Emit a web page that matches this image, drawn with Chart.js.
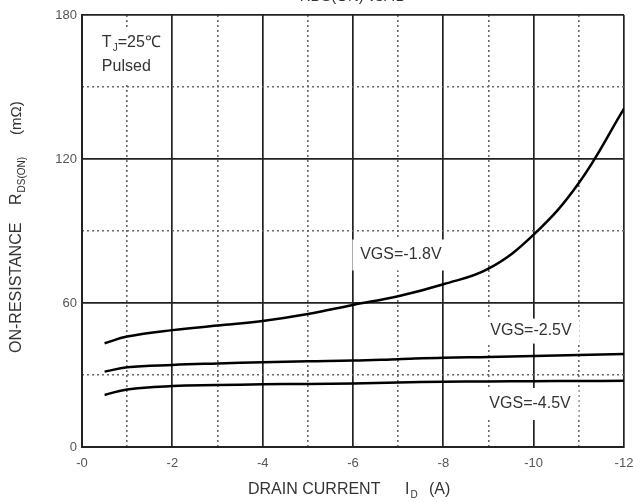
<!DOCTYPE html>
<html>
<head>
<meta charset="utf-8">
<script src="https://cdn.jsdelivr.net/npm/chart.js@4"></script>
<style>
  html, body { margin: 0; padding: 0; background: #fff; }
  canvas { display: block; }
</style>
</head>
<body>
<canvas id="rdsChart" width="633" height="502"></canvas>
<script>
// drain current (A) where the curves were read
const drainCurrent = [-0.5, -1, -2, -3, -4, -5, -6, -7, -8, -9, -10, -11, -12];
// on-resistance (mOhm) for each gate voltage
const vgs18 = [43.2, 46, 48.7, 50.6, 52.5, 55.4, 59.2, 62.8, 67.8, 74.3, 88.5, 110, 141];
const vgs25 = [31.4, 33.2, 34.2, 34.8, 35.3, 35.7, 36, 36.6, 37.2, 37.5, 37.9, 38.3, 38.8];
const vgs45 = [21.7, 24, 25.4, 25.8, 26.1, 26.3, 26.5, 26.9, 27.2, 27.3, 27.4, 27.5, 27.6];
const xTicks = [0, -2, -4, -6, -8, -10, -12];
const yTicks = [0, 60, 120, 180];

const toPoints = (vals) => vals.map((v, i) => ({ x: drainCurrent[i], y: v }));

const curve = (label, vals) => ({
  label,
  data: toPoints(vals),
  borderColor: '#000',
  borderWidth: 2.5,
  pointRadius: 0,
  tension: 0.4,
  fill: false
});

// labels with white boxes drawn over the grid
const notes = [
  { text: 'VGS=-1.8V', x: -7.06, y: 80, w: 97, h: 31 },
  { text: 'VGS=-2.5V', x: -9.94, y: 48.3, w: 97, h: 25 },
  { text: 'VGS=-4.5V', x: -9.92, y: 17.9, w: 97, h: 32 }
];

const FONT = '"Liberation Sans", Arial, sans-serif';

// draws text with a subscript after it, returns the end x
function subText(ctx, main, sub, x, y, size) {
  ctx.font = size + 'px ' + FONT;
  ctx.fillText(main, x, y);
  let w = ctx.measureText(main).width;
  ctx.font = Math.round(size * 0.6) + 'px ' + FONT;
  ctx.fillText(sub, x + w + 1, y + size * 0.3);
  return x + w + 1 + ctx.measureText(sub).width;
}

const annotate = {
  id: 'annotate',
  afterDatasetsDraw(chart) {
    const ctx = chart.ctx;
    const xs = chart.scales.x, ys = chart.scales.y;
    ctx.save();
    ctx.textBaseline = 'middle';

    notes.forEach(n => {
      const px = xs.getPixelForValue(n.x);
      const py = ys.getPixelForValue(n.y);
      ctx.fillStyle = '#fff';
      ctx.fillRect(px - n.w / 2, py - n.h / 2, n.w, n.h);
      ctx.fillStyle = '#333';
      ctx.font = '16px ' + FONT;
      ctx.textAlign = 'center';
      ctx.fillText(n.text, px, py);
    });

    // Tj / pulsed box, top left
    ctx.fillStyle = '#fff';
    ctx.fillRect(95, 27, 68, 56);
    ctx.fillStyle = '#333';
    ctx.textAlign = 'left';
    let tx = xs.getPixelForValue(-0.44);
    let end = subText(ctx, 'T', 'J', tx, ys.getPixelForValue(168.3), 16);
    ctx.font = '16px ' + FONT;
    ctx.fillText('=25\u2103', end, ys.getPixelForValue(168.3));
    ctx.fillText('Pulsed', tx, ys.getPixelForValue(158.3));
    ctx.restore();
  },
  afterDraw(chart) {
    const ctx = chart.ctx;
    ctx.save();
    ctx.fillStyle = '#333';
    ctx.textBaseline = 'middle';
    ctx.textAlign = 'left';

    // x title
    ctx.font = '16px ' + FONT;
    ctx.fillText('DRAIN CURRENT', 248, 490);
    subText(ctx, 'I', 'D', 405, 490, 16);
    ctx.font = '16px ' + FONT;
    ctx.fillText('(A)', 429, 490);

    // y title, rotated
    ctx.translate(17, 353);
    ctx.rotate(-Math.PI / 2);
    ctx.font = '16px ' + FONT;
    ctx.fillText('ON-RESISTANCE', 0, 0);
    let e = subText(ctx, 'R', 'DS(ON)', 148, 0, 16);
    ctx.font = '15px ' + FONT;
    ctx.fillText('(m\u03A9)', e + 22, 0);
    ctx.restore();

    // title line cut off by the top edge
    ctx.save();
    ctx.fillStyle = '#333';
    ctx.font = '15px ' + FONT;
    ctx.textAlign = 'center';
    ctx.textBaseline = 'alphabetic';
    ctx.fillText('RDS(ON) vs. ID', 353, 1);
    ctx.restore();
  }
};

const dotted = (isMinor) => (c) => isMinor(c.tick.value) ? '#666' : 'rgba(0,0,0,0)';

new Chart(document.getElementById('rdsChart'), {
  type: 'line',
  data: {
    datasets: [
      curve('VGS=-1.8V', vgs18),
      curve('VGS=-2.5V', vgs25),
      curve('VGS=-4.5V', vgs45)
    ]
  },
  options: {
    responsive: false,
    animation: false,
    devicePixelRatio: 1,
    layout: { padding: { top: 15, right: 0, left: 0, bottom: 0 } },
    plugins: { legend: { display: false }, tooltip: { enabled: false } },
    scales: {
      x: {
        type: 'linear',
        min: -12,
        max: 0,
        reverse: true,
        afterFit: (s) => { s.height = 55; s.paddingRight = 9; s.paddingLeft = 0; },
        afterBuildTicks: (s) => { s.ticks = xTicks.map(v => ({ value: v })); },
        ticks: {
          padding: 9,
          color: '#555',
          font: { family: FONT, size: 13 },
          callback: (v) => v === 0 ? '-0' : String(v)
        },
        grid: { color: '#222', lineWidth: 1.7, drawTicks: false },
        border: { color: '#222', width: 2 }
      },
      xm: {
        type: 'linear',
        position: 'bottom',
        min: -12,
        max: 0,
        reverse: true,
        afterFit: (s) => { s.height = 0; s.paddingRight = 0; s.paddingLeft = 0; },
        ticks: { display: false, stepSize: 1 },
        grid: { color: dotted(v => Math.abs(v) % 2 === 1), lineWidth: 1.6, drawTicks: false },
        border: { display: false, dash: [2, 3] }
      },
      y: {
        min: 0,
        max: 180,
        afterFit: (s) => { s.width = 82; },
        afterBuildTicks: (s) => { s.ticks = yTicks.map(v => ({ value: v })); },
        ticks: {
          padding: 5,
          color: '#555',
          font: { family: FONT, size: 13 }
        },
        grid: { color: '#222', lineWidth: 1.7, drawTicks: false },
        border: { color: '#222', width: 2 }
      },
      ym: {
        position: 'left',
        min: 0,
        max: 180,
        afterFit: (s) => { s.width = 0; },
        ticks: { display: false, stepSize: 30 },
        grid: { color: dotted(v => v % 60 === 30), lineWidth: 1.6, drawTicks: false },
        border: { display: false, dash: [2, 3] }
      }
    }
  },
  plugins: [annotate]
});
</script>
</body>
</html>
